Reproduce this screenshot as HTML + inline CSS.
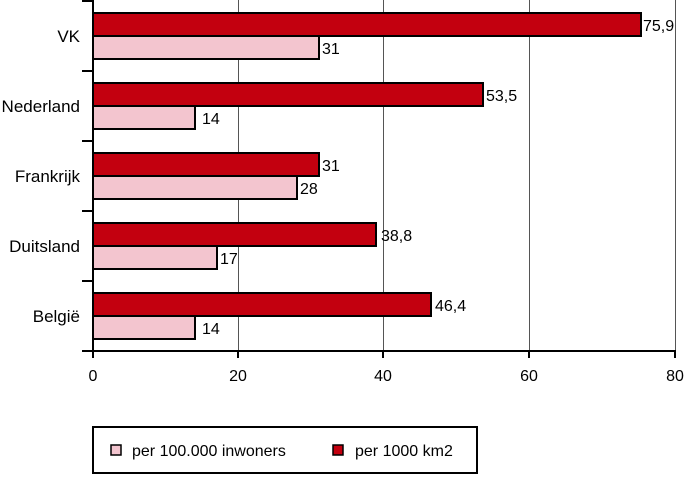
<!DOCTYPE html>
<html><head><meta charset="utf-8"><style>
body{margin:0;background:#fff;}
svg text{font-family:"Liberation Sans",sans-serif;font-size:16px;fill:#000;}
svg text.c{font-size:17px;}
</style></head><body>
<svg width="686" height="474" xmlns="http://www.w3.org/2000/svg">
<g stroke="#555" stroke-width="1">
<line x1="238.5" y1="0" x2="238.5" y2="351"/>
<line x1="383.5" y1="0" x2="383.5" y2="351"/>
<line x1="529.5" y1="0" x2="529.5" y2="351"/>
<line x1="675.5" y1="0" x2="675.5" y2="351"/>
</g>
<g stroke="#000" stroke-width="2">
<line x1="93" y1="0" x2="93" y2="351"/>
<line x1="82" y1="351" x2="676" y2="351"/>
<line x1="82" y1="1" x2="93" y2="1"/>
<line x1="82" y1="71" x2="93" y2="71"/>
<line x1="82" y1="141" x2="93" y2="141"/>
<line x1="82" y1="211" x2="93" y2="211"/>
<line x1="82" y1="281" x2="93" y2="281"/>
<line x1="93" y1="351" x2="93" y2="358"/>
<line x1="238" y1="351" x2="238" y2="358"/>
<line x1="383" y1="351" x2="383" y2="358"/>
<line x1="529" y1="351" x2="529" y2="358"/>
<line x1="675" y1="351" x2="675" y2="358"/>
</g>
<g stroke="#000" stroke-width="2">
<rect x="93" y="13" width="548" height="23" fill="#c3000f"/>
<rect x="93" y="36" width="226" height="23" fill="#f3c5cf"/>
<rect x="93" y="83" width="390" height="23" fill="#c3000f"/>
<rect x="93" y="106" width="102" height="23" fill="#f3c5cf"/>
<rect x="93" y="153" width="226" height="23" fill="#c3000f"/>
<rect x="93" y="176" width="204" height="23" fill="#f3c5cf"/>
<rect x="93" y="223" width="283" height="23" fill="#c3000f"/>
<rect x="93" y="246" width="124" height="23" fill="#f3c5cf"/>
<rect x="93" y="293" width="338" height="23" fill="#c3000f"/>
<rect x="93" y="316" width="102" height="23" fill="#f3c5cf"/>
</g>
<g>
<text x="643" y="31">75,9</text><text x="322" y="54">31</text>
<text x="486" y="101">53,5</text><text x="202" y="124">14</text>
<text x="322" y="171">31</text><text x="300" y="194">28</text>
<text x="381" y="241">38,8</text><text x="220" y="264">17</text>
<text x="435" y="311">46,4</text><text x="202" y="334">14</text>
</g>
<g text-anchor="end">
<text class="c" x="80" y="42">VK</text>
<text class="c" x="80" y="112">Nederland</text>
<text class="c" x="80" y="182">Frankrijk</text>
<text class="c" x="80" y="252">Duitsland</text>
<text class="c" x="80" y="322">België</text>
</g>
<g text-anchor="middle">
<text x="93" y="381">0</text><text x="238" y="381">20</text><text x="383" y="381">40</text><text x="529" y="381">60</text><text x="675" y="381">80</text>
</g>
<rect x="93" y="427" width="384" height="46" fill="#fff" stroke="#000" stroke-width="2"/>
<rect x="111" y="445" width="10" height="10" fill="#f3c5cf" stroke="#000" stroke-width="1.5"/>
<text x="132" y="456">per 100.000 inwoners</text>
<rect x="333" y="445" width="10" height="10" fill="#c3000f" stroke="#000" stroke-width="1.5"/>
<text x="355" y="456">per 1000 km2</text>
</svg>
</body></html>
